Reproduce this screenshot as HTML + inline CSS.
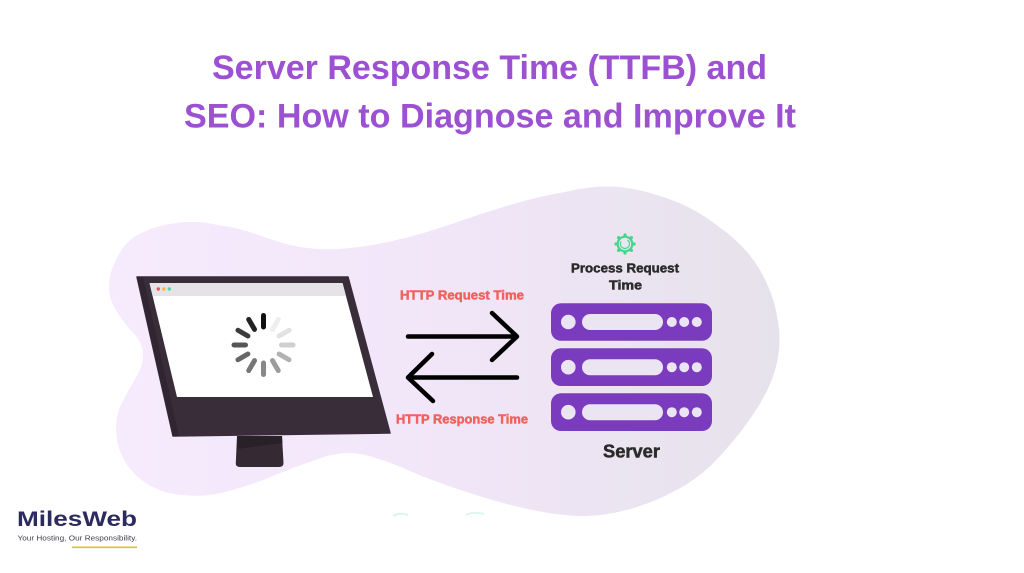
<!DOCTYPE html>
<html>
<head>
<meta charset="utf-8">
<style>
  html,body{margin:0;padding:0;background:#fff;}
  body{width:1024px;height:573px;overflow:hidden;}
  svg{display:block;}
  text{font-family:"Liberation Sans",Arial,sans-serif;}
</style>
</head>
<body>
<svg width="1024" height="573" viewBox="0 0 1024 573" xmlns="http://www.w3.org/2000/svg">
  <defs>
    <linearGradient id="blobg" x1="110" y1="0" x2="780" y2="0" gradientUnits="userSpaceOnUse">
      <stop offset="0" stop-color="#f6eafd"/>
      <stop offset="0.45" stop-color="#f2e6f9"/>
      <stop offset="1" stop-color="#e6e2eb"/>
    </linearGradient>
  </defs>
  <rect width="1024" height="573" fill="#ffffff"/>

  <!-- Title -->
  <text x="489.5" y="79" font-size="34" font-weight="bold" fill="#9c50d2" text-anchor="middle" textLength="555" lengthAdjust="spacingAndGlyphs">Server Response Time (TTFB) and</text>
  <text x="490" y="127.5" font-size="34" font-weight="bold" fill="#9c50d2" text-anchor="middle" textLength="612" lengthAdjust="spacingAndGlyphs">SEO: How to Diagnose and Improve It</text>

  <!-- Blob -->
  <path fill="url(#blobg)" d="M 217.5 225 Q 240 228 260 235.5 Q 280 243 297.5 246.5 Q 315 250 337.5 249 Q 360 248 390 241.5 Q 420 235 450 224.5 Q 480 214 510 205 Q 540 196 567.5 191.5 Q 595 185 620 187 Q 645 190 670 199.5 Q 695 208 718.5 226.5 Q 745 245 759 268.5 Q 773 292 777 316 Q 782 340 777 362.5 Q 772 385 757 408.5 Q 742 432 721 455 Q 700 478 676.5 490 Q 653 503 626.5 510 Q 600 517 577.5 516 Q 555 515 527.5 509 Q 500 503 465 491.5 Q 430 480 407.5 470 Q 385 460 365 455 Q 345 450 322.5 457.5 Q 300 465 277.5 474 Q 255 484 232.5 490 Q 210 497 190 495.5 Q 168 495 153 487 Q 138 480 128 466 Q 118 452 116.5 436 Q 115 420 120 406.5 Q 127 393 134.5 380 Q 143 367 143 355 Q 143 343 133 332.5 Q 123 322 115.5 309.5 Q 108 297 109 283.5 Q 110 270 118 256 Q 126 240 141.5 233 Q 157 225 177 223 Q 197 220 217.5 225 Z"/>

  <!-- faint mint marks at bottom -->
  <path d="M393 516 Q400 512 408 515" stroke="#d6f5e8" stroke-width="2" fill="none"/>
  <path d="M466 515 Q474 511 484 514" stroke="#ddf7ec" stroke-width="2" fill="none"/>

  <!-- Monitor -->
  <polygon points="137,277 348,277 390,433 173,436" fill="#3a2d3a" stroke="#3a2d3a" stroke-width="1.5" stroke-linejoin="round"/>
  <polygon points="137,277 143,277 179,436 173,436" fill="#302530"/>
  <polygon points="149.5,283 342.5,283 373,397 177,397" fill="#ffffff"/>
  <polygon points="149.5,283 342.5,283 346,296 152.6,296" fill="#e5e3e8"/>
  <circle cx="158.3" cy="289" r="1.7" fill="#f2544f"/>
  <circle cx="163.8" cy="289" r="1.7" fill="#f6b73c"/>
  <circle cx="169.3" cy="289" r="1.7" fill="#52d6a6"/>
  <!-- stand -->
  <path d="M237 436 L282 436 L283.5 463 Q283.5 467 279 467 L240 467 Q235.5 467 235.8 463 Z" fill="#352a34"/>
  <polygon points="237,436 282,436 282.3,443 237,449" fill="#2a2029"/>

  <!-- Spinner -->
  <g stroke-width="5" stroke-linecap="round">
    <line x1="263.5" y1="315.5" x2="263.5" y2="327" stroke="#111111"/>
    <line x1="263.5" y1="315.5" x2="263.5" y2="327" stroke="#eeeeee" transform="rotate(30 263.5 345)"/>
    <line x1="263.5" y1="315.5" x2="263.5" y2="327" stroke="#e2e2e2" transform="rotate(60 263.5 345)"/>
    <line x1="263.5" y1="315.5" x2="263.5" y2="327" stroke="#cfcfcf" transform="rotate(90 263.5 345)"/>
    <line x1="263.5" y1="315.5" x2="263.5" y2="327" stroke="#b2b2b2" transform="rotate(120 263.5 345)"/>
    <line x1="263.5" y1="315.5" x2="263.5" y2="327" stroke="#9c9c9c" transform="rotate(150 263.5 345)"/>
    <line x1="263.5" y1="315.5" x2="263.5" y2="327" stroke="#888888" transform="rotate(180 263.5 345)"/>
    <line x1="263.5" y1="315.5" x2="263.5" y2="327" stroke="#777777" transform="rotate(210 263.5 345)"/>
    <line x1="263.5" y1="315.5" x2="263.5" y2="327" stroke="#666666" transform="rotate(240 263.5 345)"/>
    <line x1="263.5" y1="315.5" x2="263.5" y2="327" stroke="#555555" transform="rotate(270 263.5 345)"/>
    <line x1="263.5" y1="315.5" x2="263.5" y2="327" stroke="#3b3b3b" transform="rotate(300 263.5 345)"/>
    <line x1="263.5" y1="315.5" x2="263.5" y2="327" stroke="#222222" transform="rotate(330 263.5 345)"/>
  </g>

  <!-- Arrows -->
  <g stroke="#000" stroke-width="4.5" stroke-linecap="round" stroke-linejoin="round" fill="none">
    <line x1="408" y1="336.5" x2="516" y2="336.5"/>
    <polyline points="492,313 517,336.5 492,360"/>
    <line x1="409" y1="377.5" x2="517" y2="377.5"/>
    <polyline points="432,354 408,377.5 433,401"/>
  </g>
  <text x="462" y="299.5" font-size="13" font-weight="bold" fill="#f0625d" stroke="#f0625d" stroke-width="0.5" text-anchor="middle" textLength="124" lengthAdjust="spacingAndGlyphs">HTTP Request Time</text>
  <text x="462" y="423.5" font-size="13" font-weight="bold" fill="#f0625d" stroke="#f0625d" stroke-width="0.5" text-anchor="middle" textLength="132" lengthAdjust="spacingAndGlyphs">HTTP Response Time</text>

  <!-- Gear -->
  <g fill="#44d68a">
    <circle cx="625" cy="235" r="1.6"/>
    <circle cx="625" cy="253" r="1.6"/>
    <circle cx="616" cy="244" r="1.6"/>
    <circle cx="634" cy="244" r="1.6"/>
    <circle cx="618.6" cy="237.6" r="1.6"/>
    <circle cx="631.4" cy="237.6" r="1.6"/>
    <circle cx="618.6" cy="250.4" r="1.6"/>
    <circle cx="631.4" cy="250.4" r="1.6"/>
  </g>
  <circle cx="625" cy="244" r="7.3" fill="none" stroke="#44d68a" stroke-width="2.2"/>
  <path d="M621 241.5 A4.6 4.6 0 1 0 627.5 240" fill="none" stroke="#44d68a" stroke-width="1.1"/>

  <text x="625" y="272.3" font-size="13.3" font-weight="bold" fill="#2b2b2b" stroke="#2b2b2b" stroke-width="0.5" text-anchor="middle" textLength="108" lengthAdjust="spacingAndGlyphs">Process Request</text>
  <text x="625.5" y="289.3" font-size="13.3" font-weight="bold" fill="#2b2b2b" stroke="#2b2b2b" stroke-width="0.5" text-anchor="middle" textLength="33" lengthAdjust="spacingAndGlyphs">Time</text>

  <!-- Server bars -->
  <g>
    <rect x="551" y="303.3" width="161" height="37.5" rx="10" fill="#7b3bbf"/>
    <circle cx="568.3" cy="322" r="7.3" fill="#ebe4f3"/>
    <rect x="582" y="314" width="81" height="16" rx="8" fill="#ebe4f3"/>
    <circle cx="671.8" cy="322" r="5" fill="#ebe4f3"/>
    <circle cx="684.2" cy="322" r="5" fill="#ebe4f3"/>
    <circle cx="696.8" cy="322" r="5" fill="#ebe4f3"/>
  </g>
  <g>
    <rect x="551" y="348.3" width="161" height="37.7" rx="10" fill="#7b3bbf"/>
    <circle cx="568.3" cy="367.2" r="7.3" fill="#ebe4f3"/>
    <rect x="582" y="359.2" width="81" height="16" rx="8" fill="#ebe4f3"/>
    <circle cx="671.8" cy="367.2" r="5" fill="#ebe4f3"/>
    <circle cx="684.2" cy="367.2" r="5" fill="#ebe4f3"/>
    <circle cx="696.8" cy="367.2" r="5" fill="#ebe4f3"/>
  </g>
  <g>
    <rect x="551" y="393.3" width="161" height="37.7" rx="10" fill="#7b3bbf"/>
    <circle cx="568.3" cy="412.2" r="7.3" fill="#ebe4f3"/>
    <rect x="582" y="404.2" width="81" height="16" rx="8" fill="#ebe4f3"/>
    <circle cx="671.8" cy="412.2" r="5" fill="#ebe4f3"/>
    <circle cx="684.2" cy="412.2" r="5" fill="#ebe4f3"/>
    <circle cx="696.8" cy="412.2" r="5" fill="#ebe4f3"/>
  </g>
  <text x="631.5" y="457.3" font-size="18" font-weight="bold" fill="#2b2b2b" stroke="#2b2b2b" stroke-width="0.5" text-anchor="middle" textLength="57" lengthAdjust="spacingAndGlyphs">Server</text>

  <!-- Logo -->
  <text x="17" y="526" font-size="21" font-weight="bold" fill="#2c2b5e" textLength="120" lengthAdjust="spacingAndGlyphs">MilesWeb</text>
  <text x="17.5" y="540.5" font-size="7.6" fill="#3d3d4d" textLength="119.5" lengthAdjust="spacingAndGlyphs">Your Hosting, Our Responsibility.</text>
  <line x1="72" y1="547.3" x2="137" y2="547.3" stroke="#f2b631" stroke-width="1.6"/>
</svg>
</body>
</html>
